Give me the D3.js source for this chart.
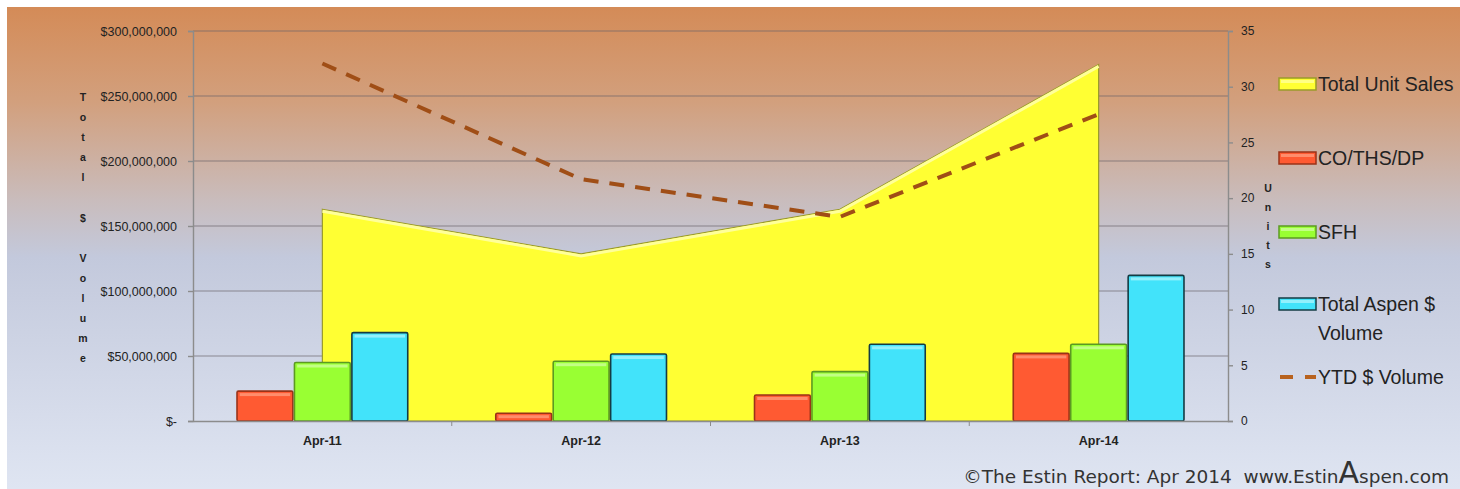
<!DOCTYPE html>
<html>
<head>
<meta charset="utf-8">
<script src="https://cdn.jsdelivr.net/npm/d3@7"></script>
<style>
  html, body { margin: 0; padding: 0; background: #fff; }
  svg { display: block; }
</style>
</head>
<body>
<div id="chart"></div>
<script>
// chart data
const categories = ['Apr-11', 'Apr-12', 'Apr-13', 'Apr-14'];
const unitSales = [19, 15, 19, 32];
const condoVolume = [23000000, 6000000, 20000000, 52000000];
const sfhVolume = [45000000, 46000000, 38000000, 59000000];
const aspenVolume = [68000000, 51500000, 59000000, 112000000];
const ytdVolume = [275000000, 186000000, 157000000, 236000000];
const dollarTicks = [0, 50000000, 100000000, 150000000, 200000000, 250000000, 300000000];
const unitTicks = [0, 5, 10, 15, 20, 25, 30, 35];
const barSeries = ['CO/THS/DP', 'SFH', 'Total Aspen $ Volume'];

const width = 1460;
const height = 489;
const plot = { left: 193, right: 1228, top: 31, bottom: 421 };

const barColors = {
  'CO/THS/DP': { fill: '#ff5a32', edge: '#9a3318', light: '#ff9a7a' },
  'SFH': { fill: '#99ff33', edge: '#5c9a22', light: '#ccff99' },
  'Total Aspen $ Volume': { fill: '#42e3fa', edge: '#143c44', light: '#a6f3fd' }
};

const svg = d3.select('#chart')
  .append('svg')
  .attr('width', width)
  .attr('height', height);

const defs = svg.append('defs');
const bg = defs.append('linearGradient')
  .attr('id', 'bg')
  .attr('x1', 0).attr('y1', 0).attr('x2', 0).attr('y2', 1);
[['0%', '#d48b57'], ['20%', '#d2a07e'], ['40%', '#c9bcbc'], ['52%', '#c3c9dc'], ['100%', '#dfe5f2']]
  .forEach(function (s) { bg.append('stop').attr('offset', s[0]).attr('stop-color', s[1]); });

// panel background
svg.append('rect')
  .attr('x', 7).attr('y', 7)
  .attr('width', width - 7).attr('height', height - 7)
  .attr('fill', 'url(#bg)');

const x0 = d3.scaleBand()
  .domain(categories)
  .range([plot.left, plot.right]);

const bw = x0.bandwidth();
const x1 = d3.scaleBand()
  .domain(barSeries)
  .range([bw * 0.167, bw * 0.833]);

const yLeft = d3.scaleLinear()
  .domain([0, 300000000])
  .range([plot.bottom, plot.top]);

const yRight = d3.scaleLinear()
  .domain([0, 35])
  .range([plot.bottom, plot.top]);

// gridlines
svg.append('g')
  .selectAll('line')
  .data(dollarTicks.slice(1))
  .enter()
  .append('line')
  .attr('x1', plot.left).attr('x2', plot.right)
  .attr('y1', function (d) { return yLeft(d); })
  .attr('y2', function (d) { return yLeft(d); })
  .attr('stroke', 'rgba(105,100,105,0.45)')
  .attr('stroke-width', 1.6);

// total unit sales area (right axis)
const area = d3.area()
  .x(function (d, i) { return x0(categories[i]) + bw / 2; })
  .y0(plot.bottom)
  .y1(function (d) { return yRight(d); });

svg.append('path')
  .datum(unitSales)
  .attr('d', area)
  .attr('fill', '#ffff33')
  .attr('stroke', '#9a9a2a')
  .attr('stroke-width', 1.2);

const topEdge = d3.line()
  .x(function (d, i) { return x0(categories[i]) + bw / 2; })
  .y(function (d) { return yRight(d) + 2; });

svg.append('path')
  .datum(unitSales)
  .attr('d', topEdge)
  .attr('fill', 'none')
  .attr('stroke', '#ffff99')
  .attr('stroke-width', 3);

// bars
const rows = categories.map(function (c, i) {
  return { cat: c, vals: [condoVolume[i], sfhVolume[i], aspenVolume[i]] };
});

const groups = svg.selectAll('.grp')
  .data(rows)
  .enter()
  .append('g')
  .attr('class', 'grp')
  .attr('transform', function (d) { return 'translate(' + x0(d.cat) + ',0)'; });

const bars = groups.selectAll('.bar')
  .data(function (d) {
    return barSeries.map(function (s, j) { return { key: s, value: d.vals[j] }; });
  })
  .enter()
  .append('g')
  .attr('class', 'bar');

bars.append('rect')
  .attr('x', function (d) { return x1(d.key) + 0.8; })
  .attr('y', function (d) { return yLeft(d.value); })
  .attr('width', x1.bandwidth() - 1.6)
  .attr('height', function (d) { return plot.bottom - yLeft(d.value); })
  .attr('rx', 1.5)
  .attr('fill', function (d) { return barColors[d.key].fill; })
  .attr('stroke', function (d) { return barColors[d.key].edge; })
  .attr('stroke-width', 1.6);

bars.append('rect')
  .attr('x', function (d) { return x1(d.key) + 3.5; })
  .attr('y', function (d) { return yLeft(d.value) + 2; })
  .attr('width', x1.bandwidth() - 7)
  .attr('height', function (d) { return Math.min(3, Math.max(0, plot.bottom - yLeft(d.value) - 4)); })
  .attr('fill', function (d) { return barColors[d.key].light; })
  .attr('opacity', 0.8);

// ytd dollar volume dashed line (left axis)
const ytdLine = d3.line()
  .x(function (d, i) { return x0(categories[i]) + bw / 2; })
  .y(function (d) { return yLeft(d); });

svg.append('path')
  .datum(ytdVolume)
  .attr('d', ytdLine)
  .attr('fill', 'none')
  .attr('stroke', '#a04e16')
  .attr('stroke-width', 4)
  .attr('stroke-dasharray', '15,11');

// axes
const axisColor = '#8c8c8c';
const fmtDollar = function (d) { return d === 0 ? '$-' : '$' + d3.format(',')(d); };

const leftAxis = svg.append('g')
  .attr('transform', 'translate(' + plot.left + ',0)')
  .call(d3.axisLeft(yLeft).tickValues(dollarTicks).tickFormat(fmtDollar).tickSize(5).tickPadding(11));

const rightAxis = svg.append('g')
  .attr('transform', 'translate(' + plot.right + ',0)')
  .call(d3.axisRight(yRight).tickValues(unitTicks).tickSize(5).tickPadding(8));

const bottomAxis = svg.append('g')
  .attr('transform', 'translate(0,' + plot.bottom + ')')
  .call(d3.axisBottom(x0).tickSize(0).tickPadding(15));

// category boundary ticks
svg.append('g')
  .selectAll('line')
  .data(categories.slice(1))
  .enter()
  .append('line')
  .attr('x1', function (d) { return x0(d); })
  .attr('x2', function (d) { return x0(d); })
  .attr('y1', plot.bottom).attr('y2', plot.bottom + 5)
  .attr('stroke', axisColor);

[leftAxis, rightAxis, bottomAxis].forEach(function (a) {
  a.selectAll('path, line').attr('stroke', axisColor).attr('stroke-width', 1.4);
  a.selectAll('text')
    .attr('fill', '#222')
    .attr('font-family', 'Liberation Sans, Arial, sans-serif');
});
leftAxis.selectAll('text').attr('font-size', 12.5);
rightAxis.selectAll('text').attr('font-size', 12);
bottomAxis.selectAll('text').attr('font-size', 12.5).attr('font-weight', 'bold');

// vertical stacked axis titles
function stackedTitle(txt, x, y, step) {
  svg.append('g')
    .selectAll('text')
    .data(txt.split(''))
    .enter()
    .append('text')
    .attr('x', x)
    .attr('y', function (d, i) { return y + i * step; })
    .attr('text-anchor', 'middle')
    .attr('font-family', 'Liberation Sans, Arial, sans-serif')
    .attr('font-size', 10.5)
    .attr('font-weight', 'bold')
    .attr('fill', '#222')
    .text(function (d) { return d; });
}
stackedTitle('Total $ Volume', 83, 101, 20.1);
stackedTitle('Units', 1268, 192, 19);

// legend
const legendItems = [
  { name: ['Total Unit Sales'], y: 84, fill: '#ffff33', edge: '#9a9a2a', light: '#ffff99' },
  { name: ['CO/THS/DP'], y: 158, fill: barColors['CO/THS/DP'].fill, edge: barColors['CO/THS/DP'].edge, light: barColors['CO/THS/DP'].light },
  { name: ['SFH'], y: 232, fill: barColors['SFH'].fill, edge: barColors['SFH'].edge, light: barColors['SFH'].light },
  { name: ['Total Aspen $', 'Volume'], y: 304, fill: barColors['Total Aspen $ Volume'].fill, edge: barColors['Total Aspen $ Volume'].edge, light: barColors['Total Aspen $ Volume'].light },
  { name: ['YTD $ Volume'], y: 377, dash: true }
];

const legend = svg.append('g');
legendItems.forEach(function (it) {
  const g = legend.append('g').attr('transform', 'translate(1279,' + it.y + ')');
  if (it.dash) {
    g.append('line')
      .attr('x1', 1).attr('x2', 37).attr('y1', 0).attr('y2', 0)
      .attr('stroke', '#b8621e')
      .attr('stroke-width', 4)
      .attr('stroke-dasharray', '13,12');
  } else {
    g.append('rect')
      .attr('x', 0).attr('y', -6).attr('width', 37).attr('height', 12)
      .attr('fill', it.fill).attr('stroke', it.edge).attr('stroke-width', 1.5);
    g.append('rect')
      .attr('x', 2).attr('y', -4).attr('width', 33).attr('height', 3)
      .attr('fill', it.light).attr('opacity', 0.8);
  }
  g.selectAll('text')
    .data(it.name)
    .enter()
    .append('text')
    .attr('x', 39)
    .attr('y', function (d, i) { return 7 + i * 29; })
    .attr('font-family', 'Liberation Sans, Arial, sans-serif')
    .attr('font-size', 19.5)
    .attr('fill', '#222')
    .text(function (d) { return d; });
});

// footer credit
const footer = svg.append('text')
  .attr('x', 1449)
  .attr('y', 483)
  .attr('text-anchor', 'end')
  .attr('font-family', 'DejaVu Sans, sans-serif')
  .attr('font-size', 18.5)
  .attr('fill', '#333');
footer.append('tspan').text('\u00A9The Estin Report: Apr 2014\u00A0 www.Estin');
footer.append('tspan').attr('font-size', 30).text('A');
footer.append('tspan').text('spen.com');
</script>
</body>
</html>
